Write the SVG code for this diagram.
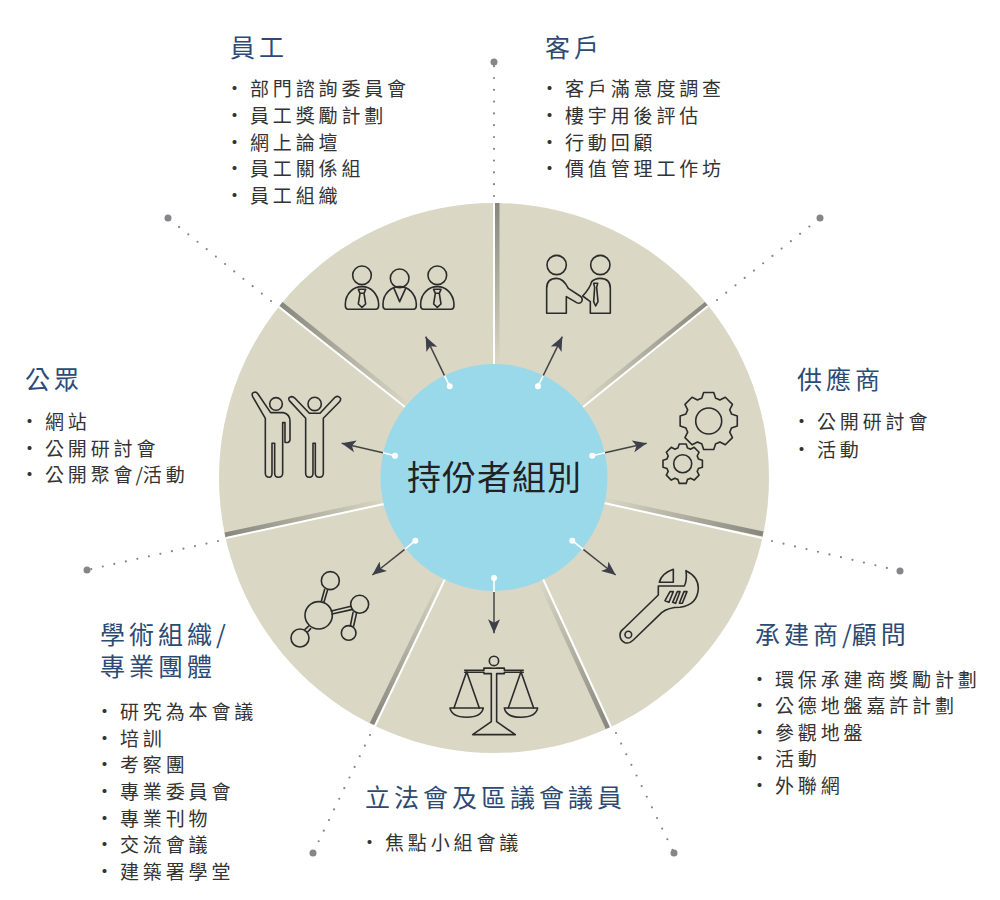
<svg xmlns="http://www.w3.org/2000/svg" xmlns:xlink="http://www.w3.org/1999/xlink" width="1000" height="900" viewBox="0 0 1000 900">
<style>
text{font-family:"Noto Sans CJK TC","Noto Sans",sans-serif}
.t{font-size:25px;letter-spacing:4px;fill:#2c4a74}
.i{font-size:19px;letter-spacing:3.85px;fill:#333}
.c{font-size:34px;letter-spacing:1px;fill:#222}
.s{letter-spacing:0}
.ic{fill:none;stroke:#2b2b2b;stroke-width:4.8;stroke-linejoin:round;stroke-linecap:round}
.gear{fill:none;stroke:#2b2b2b;stroke-width:1.6;stroke-linejoin:round;vector-effect:non-scaling-stroke}
.lead{fill:none;stroke:#85858a;stroke-width:2.2;stroke-linecap:round;stroke-dasharray:0 11.8}
.end{fill:#85858a}
.w{stroke:#fff;stroke-width:1.6;fill:none}
.a{stroke:#444;stroke-width:1.5;fill:none;marker-end:url(#ah)}
.dot{fill:#fff}
.sep{stroke:#fff;stroke-width:2}
.band{stroke-width:5;fill:none}
</style>
<defs>
<marker id="ah" markerUnits="userSpaceOnUse" markerWidth="16" markerHeight="14" refX="14" refY="7" orient="auto"><path d="M14,7 L0,1 L3.5,7 L0,13 Z" fill="#3d4048"/></marker>
<linearGradient id="g1" gradientUnits="userSpaceOnUse" x1="497" y1="203" x2="497" y2="364"><stop offset="0" stop-color="#87877d"/><stop offset="1" stop-color="#d9d6c4"/></linearGradient>
<linearGradient id="g2" gradientUnits="userSpaceOnUse" x1="706" y1="304" x2="584" y2="403"><stop offset="0" stop-color="#87877d"/><stop offset="1" stop-color="#d9d6c4"/></linearGradient>
<linearGradient id="g3" gradientUnits="userSpaceOnUse" x1="763" y1="534" x2="604" y2="500"><stop offset="0" stop-color="#87877d"/><stop offset="1" stop-color="#d9d6c4"/></linearGradient>
<linearGradient id="g4" gradientUnits="userSpaceOnUse" x1="608" y1="727" x2="541" y2="582"><stop offset="0" stop-color="#87877d"/><stop offset="1" stop-color="#d9d6c4"/></linearGradient>
<linearGradient id="g5" gradientUnits="userSpaceOnUse" x1="373" y1="724" x2="442" y2="580"><stop offset="0" stop-color="#87877d"/><stop offset="1" stop-color="#d9d6c4"/></linearGradient>
<linearGradient id="g6" gradientUnits="userSpaceOnUse" x1="225" y1="535" x2="384" y2="501"><stop offset="0" stop-color="#87877d"/><stop offset="1" stop-color="#d9d6c4"/></linearGradient>
<linearGradient id="g7" gradientUnits="userSpaceOnUse" x1="282" y1="304" x2="406" y2="405"><stop offset="0" stop-color="#87877d"/><stop offset="1" stop-color="#d9d6c4"/></linearGradient>
<path id="gr" class="gear" d="M98.5,17.4 L78.4,24 A82,82 0 0 1 72.4,38.5 L81.9,57.4 L57.4,81.9 L38.5,72.4 A82,82 0 0 1 24,78.4 L17.4,98.5 L-17.4,98.5 L-24,78.4 A82,82 0 0 1 -38.5,72.4 L-57.4,81.9 L-81.9,57.4 L-72.4,38.5 A82,82 0 0 1 -78.4,24 L-98.5,17.4 L-98.5,-17.4 L-78.4,-24 A82,82 0 0 1 -72.4,-38.5 L-81.9,-57.4 L-57.4,-81.9 L-38.5,-72.4 A82,82 0 0 1 -24,-78.4 L-17.4,-98.5 L17.4,-98.5 L24,-78.4 A82,82 0 0 1 38.5,-72.4 L57.4,-81.9 L81.9,-57.4 L72.4,-38.5 A82,82 0 0 1 78.4,-24 L98.5,-17.4 Z"/>
</defs>

<g id="wheel">
<circle cx="494" cy="478" r="275" fill="#dad7c5"/>
<line class="band" stroke="url(#g1)" x1="497" y1="203" x2="497" y2="364"/>
<line class="sep" x1="494" y1="203" x2="494" y2="364"/>
<line class="band" stroke="url(#g2)" x1="706.5" y1="304" x2="583" y2="403"/>
<line class="sep" x1="708" y1="306" x2="583" y2="407"/>
<line class="band" stroke="url(#g3)" x1="763" y1="534" x2="604" y2="500"/>
<line class="sep" x1="762" y1="538" x2="604" y2="503"/>
<line class="band" stroke="url(#g4)" x1="608" y1="728" x2="541" y2="582"/>
<line class="sep" x1="611" y1="727" x2="543" y2="579"/>
<line class="band" stroke="url(#g5)" x1="372" y1="724" x2="442" y2="580"/>
<line class="sep" x1="375" y1="726" x2="445" y2="579"/>
<line class="band" stroke="url(#g6)" x1="225" y1="535" x2="384" y2="501"/>
<line class="sep" x1="226" y1="538" x2="384" y2="504"/>
<line class="band" stroke="url(#g7)" x1="281" y1="304" x2="406" y2="404"/>
<line class="sep" x1="279" y1="307" x2="405" y2="407"/>
</g>

<g id="leaders">
<path class="lead" d="M494,196 L494,62"/><circle class="end" cx="494" cy="62" r="3.5"/>
<path class="lead" d="M717,300 L820,218"/><circle class="end" cx="820" cy="218" r="3.5"/>
<path class="lead" d="M772,541 L900,571"/><circle class="end" cx="900" cy="571" r="3.5"/>
<path class="lead" d="M616,733 L674,853"/><circle class="end" cx="674" cy="853" r="3.5"/>
<path class="lead" d="M370,735 L313,853"/><circle class="end" cx="313" cy="853" r="3.5"/>
<path class="lead" d="M218,541 L87,570"/><circle class="end" cx="87" cy="570" r="3.5"/>
<path class="lead" d="M271,301 L168,218"/><circle class="end" cx="168" cy="218" r="3.5"/>
</g>

<g id="hub">
<circle cx="494" cy="477.5" r="113.5" fill="#9ad9e9"/>
<text class="c" x="407" y="490">持份者組別</text>
</g>

<g id="connectors">
<path class="a" d="M444.5,375.6 L425.7,336.7"/>
<path class="a" d="M543.2,375.6 L562.3,336.7"/>
<path class="a" d="M605,452.8 L646.7,443.3"/>
<path class="a" d="M583.3,549.4 L615.7,575"/>
<path class="a" d="M494,592 L494,633.3"/>
<path class="a" d="M404.7,549.4 L372.3,575"/>
<path class="a" d="M383,452.8 L341.7,443.3"/>
<path class="w" d="M449.7,386.3 L444.5,375.6"/><circle class="dot" cx="449.7" cy="386.3" r="3"/>
<path class="w" d="M538,386.3 L543.2,375.6"/><circle class="dot" cx="538" cy="386.3" r="3"/>
<path class="w" d="M592.3,455.7 L605,452.8"/><circle class="dot" cx="592.3" cy="455.7" r="3"/>
<path class="w" d="M572.3,540.7 L583.3,549.4"/><circle class="dot" cx="572.3" cy="540.7" r="3"/>
<path class="w" d="M494,578 L494,592"/><circle class="dot" cx="494" cy="578" r="3"/>
<path class="w" d="M415.3,540.7 L404.7,549.4"/><circle class="dot" cx="415.3" cy="540.7" r="3"/>
<path class="w" d="M395,455.7 L383,452.8"/><circle class="dot" cx="395" cy="455.7" r="3"/>
</g>

<g id="icon-staff" class="ic" transform="translate(240,200) scale(.3333)">
<circle cx="366" cy="226" r="28"/><circle cx="479" cy="235" r="28"/><circle cx="592" cy="226" r="28"/>
<path d="M325,328 H407 Q417,328 416,312 C414,280 392,260 366,260 C340,260 317,280 316,312 Q315,328 325,328Z"/>
<path d="M355,268 H377 L372,280 L377,312 L366,322 L355,312 L360,280Z M360,280 H372"/>
<path d="M438,328 H520 Q530,328 529,312 C527,280 505,260 479,260 C453,260 430,280 429,312 Q428,328 438,328Z"/>
<path d="M462,265 L479,305 L497,265"/>
<path d="M551,328 H633 Q643,328 642,312 C640,280 618,260 592,260 C566,260 543,280 542,312 Q541,328 551,328Z"/>
<path d="M581,268 H603 L598,280 L603,312 L592,322 L581,312 L586,280Z M586,280 H598"/>
</g>

<g id="icon-public" class="ic" transform="translate(240,200) scale(.3333)">
<circle cx="108" cy="612" r="19"/><circle cx="224" cy="612" r="20"/>
<path d="M38,590 Q33,578 45,576 Q50,576 54,582 L92,638 H130 Q150,642 150,665 V720 Q148,730 135,727 V668 H128 V820 Q128,832 115,832 Q104,832 104,820 V730 H96 V820 Q96,832 88,832 Q76,832 76,820 V655 Z"/>
<path d="M148,602 Q142,592 155,590 Q160,590 165,595 L208,640 H240 L285,592 Q295,585 302,596 Q302,602 298,606 L250,655 V820 Q250,832 238,832 Q226,832 226,820 V730 H219 V820 Q219,832 208,832 Q197,832 197,820 V655 Z"/>
</g>

<g id="icon-client" class="ic" transform="translate(500,200) scale(.3333)">
<circle cx="170" cy="195" r="29"/><circle cx="301" cy="195" r="29"/>
<path d="M140,340 V265 Q140,235 170,235 Q190,235 205,265 L240,288 Q250,296 245,305 Q238,315 225,305 L199,290 V340 Z"/>
<path d="M271,340 V305 L248,288 Q270,265 275,245 Q285,235 300,235 Q331,235 331,265 V340 Z"/>
<path d="M281,250 H293 L290,262 L294,305 L287,318 L281,305 L284,262 Z"/>
</g>

<g id="icon-supplier">
<use xlink:href="#gr" transform="translate(708.7,421) scale(.29)"/>
<circle cx="708.7" cy="421" r="13" fill="none" stroke="#2b2b2b" stroke-width="1.6"/>
<use xlink:href="#gr" transform="translate(682.7,463.7) scale(.2)"/>
<circle cx="682.7" cy="463.7" r="9" fill="none" stroke="#2b2b2b" stroke-width="1.6"/>
</g>

<g id="icon-contractor" class="ic" transform="translate(530,480) scale(.3333)">
<circle cx="295" cy="464" r="10"/>
<path d="M270,465 Q270,455 280,447 L385,345 V318 H463 Q472,300 468,272 Q505,290 505,325 Q503,375 450,382 Q415,382 395,398 L310,480 Q298,492 285,488 Q270,482 270,465Z"/>
<path d="M388,307 Q395,280 430,268 V307Z"/>
<path d="M405,362 L420,335 H430 L417,367Z M428,367 L442,335 H450 L437,370Z M448,370 L462,335 H471 L457,370Z"/>
</g>

<g id="icon-legco" class="ic" transform="translate(260,500) scale(.3333)">
<circle cx="702" cy="483" r="14"/>
<path d="M614,511 H672 V505 H694 M710,505 H733 V511 H790 M614,517 H672 V521 H694 V665 L638,704 H766 L710,665 V521 H733 V517 H790"/>
<path d="M672,505 H733"/>
<path d="M620,515 L582,624 M620,515 L658,624 M783,515 L745,624 M783,515 L821,624"/>
<path d="M570,624 H670 Q665,652 620,652 Q575,652 570,624Z"/>
<path d="M733,624 H833 Q828,652 783,652 Q738,652 733,624Z"/>
</g>

<g id="icon-academic" class="ic" transform="translate(260,500) scale(.3333)">
<circle cx="176" cy="346" r="41"/><circle cx="211" cy="242" r="27"/><circle cx="299" cy="313" r="27"/><circle cx="266" cy="399" r="22"/><circle cx="120" cy="414" r="27"/>
<path d="M184,304 L194,268 M192,306 L203,269 M214,333 L273,319 M216,342 L275,329 M279,338 L271,378 M290,338 L281,378 M135,388 L147,378 M143,396 L152,386"/>
</g>

<g id="list-staff">
<text class="t" x="230" y="57">員工</text>
<text class="i"><tspan x="225" y="96">•</tspan><tspan x="250" y="96">部門諮詢委員會</tspan></text>
<text class="i"><tspan x="225" y="123">•</tspan><tspan x="250" y="123">員工獎勵計劃</tspan></text>
<text class="i"><tspan x="225" y="150">•</tspan><tspan x="250" y="150">網上論壇</tspan></text>
<text class="i"><tspan x="225" y="176">•</tspan><tspan x="250" y="176">員工關係組</tspan></text>
<text class="i"><tspan x="225" y="203">•</tspan><tspan x="250" y="203">員工組織</tspan></text>
</g>
<g id="list-client">
<text class="t" x="545" y="57">客戶</text>
<text class="i"><tspan x="540" y="96">•</tspan><tspan x="565" y="96">客戶滿意度調查</tspan></text>
<text class="i"><tspan x="540" y="123">•</tspan><tspan x="565" y="123">樓宇用後評估</tspan></text>
<text class="i"><tspan x="540" y="150">•</tspan><tspan x="565" y="150">行動回顧</tspan></text>
<text class="i"><tspan x="540" y="176">•</tspan><tspan x="565" y="176">價值管理工作坊</tspan></text>
</g>
<g id="list-supplier">
<text class="t" x="797" y="389">供應商</text>
<text class="i"><tspan x="792" y="429">•</tspan><tspan x="817" y="429">公開研討會</tspan></text>
<text class="i"><tspan x="792" y="457">•</tspan><tspan x="817" y="457">活動</tspan></text>
</g>
<g id="list-contractor">
<text class="t" x="755" y="644">承建商<tspan class="s">/</tspan>顧問</text>
<text class="i"><tspan x="750" y="687">•</tspan><tspan x="775" y="687">環保承建商獎勵計劃</tspan></text>
<text class="i"><tspan x="750" y="713">•</tspan><tspan x="775" y="713">公德地盤嘉許計劃</tspan></text>
<text class="i"><tspan x="750" y="740">•</tspan><tspan x="775" y="740">參觀地盤</tspan></text>
<text class="i"><tspan x="750" y="766">•</tspan><tspan x="775" y="766">活動</tspan></text>
<text class="i"><tspan x="750" y="793">•</tspan><tspan x="775" y="793">外聯網</tspan></text>
</g>
<g id="list-legco">
<text class="t" x="365" y="807">立法會及區議會議員</text>
<text class="i"><tspan x="360" y="850">•</tspan><tspan x="385" y="850">焦點小組會議</tspan></text>
</g>
<g id="list-academic">
<text class="t"><tspan x="100" y="644">學術組織/</tspan><tspan x="100" y="676">專業團體</tspan></text>
<text class="i"><tspan x="95" y="719">•</tspan><tspan x="120" y="719">研究為本會議</tspan></text>
<text class="i"><tspan x="95" y="746">•</tspan><tspan x="120" y="746">培訓</tspan></text>
<text class="i"><tspan x="95" y="772">•</tspan><tspan x="120" y="772">考察團</tspan></text>
<text class="i"><tspan x="95" y="799">•</tspan><tspan x="120" y="799">專業委員會</tspan></text>
<text class="i"><tspan x="95" y="826">•</tspan><tspan x="120" y="826">專業刊物</tspan></text>
<text class="i"><tspan x="95" y="852">•</tspan><tspan x="120" y="852">交流會議</tspan></text>
<text class="i"><tspan x="95" y="879">•</tspan><tspan x="120" y="879">建築署學堂</tspan></text>
</g>
<g id="list-public">
<text class="t" x="25" y="389">公眾</text>
<text class="i"><tspan x="20" y="429">•</tspan><tspan x="45" y="429">網站</tspan></text>
<text class="i"><tspan x="20" y="456">•</tspan><tspan x="45" y="456">公開研討會</tspan></text>
<text class="i"><tspan x="20" y="482">•</tspan><tspan x="45" y="482">公開聚會<tspan class="s" dx="-1">/</tspan>活動</tspan></text>
</g>
</svg>
